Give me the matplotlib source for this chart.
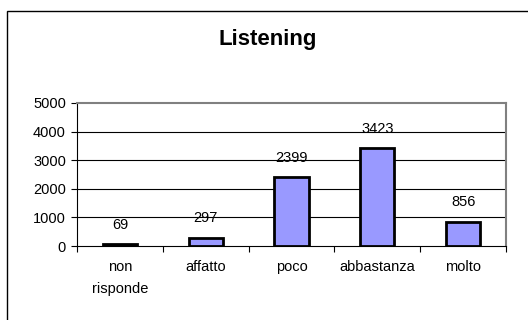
import matplotlib
matplotlib.use("Agg")
import matplotlib.pyplot as plt
from matplotlib.patches import Rectangle
import numpy as np

categories = ["non\nrisponde", "affatto", "poco", "abbastanza", "molto"]
values = [69, 297, 2399, 3423, 856]
yticks = [0, 1000, 2000, 3000, 4000, 5000]

plt.rcParams['font.family'] = ['Liberation Sans', 'DejaVu Sans']

W, H = 528, 320
fig = plt.figure(figsize=(W / 100, H / 100), dpi=100)

# cornice esterna (bordo destro e inferiore tagliati)
fig.patches.append(Rectangle((7 / W, -0.1), 1.2, 1 - 11 / H + 0.1,
                             transform=fig.transFigure, fill=False,
                             edgecolor='black', linewidth=1.0))

left, right, top, bottom = 77, 506, 103, 246
ax = fig.add_axes([left / W, 1 - bottom / H, (right - left) / W, (bottom - top) / H])

fs = 10.5
x = np.arange(len(values))
ax.bar(x, values, width=0.4, color='#9999FF', edgecolor='black', linewidth=2, zorder=3)
for xi, v in zip(x, values):
    ax.annotate(str(v), (xi, v), xytext=(0, 9), textcoords='offset points',
                ha='center', va='bottom', fontsize=fs, zorder=4)

ax.set_xlim(-0.5, len(values) - 0.5)
ax.set_ylim(0, 5000)
ax.set_yticks(yticks)
ax.set_yticklabels([str(t) for t in yticks], fontsize=fs)
for t in yticks[1:-1]:
    ax.axhline(t, color='black', linewidth=0.8, zorder=1)

ax.set_xticks(np.arange(len(values) + 1) - 0.5)
ax.set_xticklabels([])
ax.set_xticks(x, minor=True)
ax.set_xticklabels(categories, minor=True, fontsize=fs, linespacing=1.7, va='top')
ax.tick_params(axis='x', which='minor', length=0, pad=10)
ax.tick_params(axis='x', which='major', length=4, width=0.8, direction='out')
ax.tick_params(axis='y', length=4, width=0.8, pad=4)

ax.spines['top'].set_color('#808080')
ax.spines['right'].set_color('#808080')
ax.spines['top'].set_linewidth(1.5)
ax.spines['right'].set_linewidth(1.5)
ax.spines['left'].set_linewidth(0.8)
ax.spines['bottom'].set_linewidth(0.8)

fig.text(268 / W, 1 - 40 / H, "Listening", ha='center', va='center',
         fontsize=16, fontweight='bold')

fig.savefig("out.png", dpi=100)
